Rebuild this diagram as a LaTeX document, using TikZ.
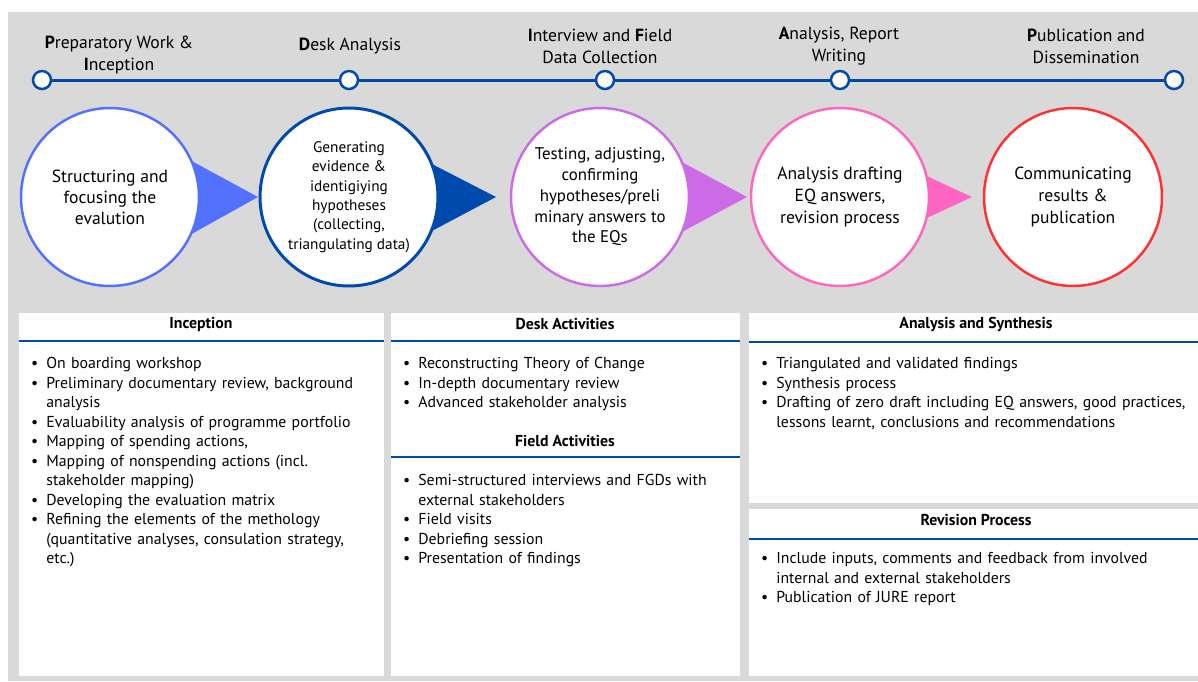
\documentclass[tikz,border=0pt]{standalone}
\usepackage{fontspec}
\setmainfont{PT Sans}
\usepackage{enumitem}

\definecolor{bggray}{HTML}{D9D9D9}
\definecolor{lineblue}{HTML}{004AAD}
\definecolor{phaseA}{HTML}{5271FF}
\definecolor{phaseB}{HTML}{004AAD}
\definecolor{phaseC}{HTML}{CB6CE6}
\definecolor{phaseD}{HTML}{FF66C4}
\definecolor{phaseE}{HTML}{FF3131}

\newcommand{\tasklist}[1]{%
  \begin{itemize}[label=\textbullet, leftmargin=0.32cm, labelsep=0.16cm,
    itemsep=0pt, parsep=0pt, topsep=0pt, partopsep=0pt]
  #1
  \end{itemize}}

\tikzset{
  tdot/.style={circle, draw=lineblue, fill=white, line width=1.4pt,
    minimum size=0.36cm, inner sep=0pt},
  tline/.style={lineblue, line width=1.7pt},
  phase/.style={align=center, font=\fontsize{10}{12.4}\selectfont},
  bigcircle/.style={circle, fill=white, line width=1.4pt, minimum size=3.56cm,
    inner sep=0pt, align=center, font=\fontsize{10}{12}\selectfont},
  panel/.style={fill=white},
  paneltitle/.style={font=\fontsize{9}{11}\selectfont\bfseries, inner sep=0pt},
  rule/.style={lineblue, line width=1.4pt},
  tasks/.style={anchor=north west, inner sep=0pt, text width=9cm, align=left,
    font=\fontsize{9}{11.1}\selectfont},
}

\begin{document}
\begin{tikzpicture}[x=0.02cm,y=-0.02cm]
  \useasboundingbox (0,0) rectangle (1198,681);
  \fill[bggray] (8,12) rectangle (1198,681);

  % 时间轴
  \node[tdot] (d1) at (42,80) {};
  \node[tdot] (d2) at (349,80) {};
  \node[tdot] (d3) at (605,80) {};
  \node[tdot] (d4) at (840,80) {};
  \node[tdot] (d5) at (1174,80) {};
  \draw[tline] (d1) -- (d2) -- (d3) -- (d4) -- (d5);

  \node[phase] (p1) at (119,55) {\textbf{P}reparatory Work \&\\\textbf{I}nception};
  \node[phase] (p2) at (350,46) {\textbf{D}esk Analysis};
  \node[phase] (p3) at (600,46) {\textbf{I}nterview and \textbf{F}ield\\Data Collection};
  \node[phase] (p4) at (839,46) {\textbf{A}nalysis, Report\\Writing};
  \node[phase] (p5) at (1086,46) {\textbf{P}ublication and\\Dissemination};

  % 箭头三角形
  \fill[phaseA] (188,159) -- (258,197) -- (188,236) -- cycle;
  \fill[phaseB] (428,162) -- (496,197) -- (428,233) -- cycle;
  \fill[phaseC] (678,160) -- (747,197) -- (678,234) -- cycle;
  \fill[phaseD] (918,172) -- (972,197) -- (918,222) -- cycle;

  % 阶段圆
  \node[bigcircle, draw=phaseA] (c1) at (110,197) {Structuring and\\focusing the\\evalution};
  \node[bigcircle, draw=phaseB, line width=1.7pt, font=\fontsize{8.7}{11}\selectfont] (c2) at (349,197)
    {Generating\\evidence \&\\identigiying\\hypotheses\\(collecting,\\triangulating data)};
  \node[bigcircle, draw=phaseC, font=\fontsize{9.6}{11.8}\selectfont] (c3) at (600,197)
    {Testing, adjusting,\\confirming\\hypotheses/preli\\minary answers to\\the EQs};
  \node[bigcircle, draw=phaseD, font=\fontsize{10}{12.5}\selectfont] (c4) at (840,197)
    {Analysis drafting\\EQ answers,\\revision process};
  \node[bigcircle, draw=phaseE, font=\fontsize{10}{12.5}\selectfont] (c5) at (1073,197)
    {Communicating\\results \&\\publication};

  % 下方的活动面板
  \fill[panel] (19,313) rectangle (384,676);
  \fill[panel] (391,313) rectangle (740,676);
  \fill[panel] (749,313) rectangle (1198,503);
  \fill[panel] (749,509) rectangle (1198,676);

  \node[paneltitle] (h1) at (201,324) {Inception};
  \draw[rule] (19,341) -- (384,341);
  \node[tasks] (l1) at (30,349) {\tasklist{
    \item On boarding workshop
    \item Preliminary documentary review, background\newline analysis
    \item Evaluability analysis of programme portfolio
    \item Mapping of spending actions,
    \item Mapping of nonspending actions (incl.\newline stakeholder mapping)
    \item Developing the evaluation matrix
    \item Refining the elements of the methology\newline (quantitative analyses, consulation strategy,\newline etc.)}};

  \node[paneltitle] (h2) at (565,324) {Desk Activities};
  \draw[rule] (391,341) -- (740,341);
  \node[tasks] (l2) at (402,349) {\tasklist{
    \item Reconstructing Theory of Change
    \item In-depth documentary review
    \item Advanced stakeholder analysis}};

  \node[paneltitle] (h3) at (565,441) {Field Activities};
  \draw[rule] (391,457) -- (740,457);
  \node[tasks] (l3) at (402,466) {\tasklist{
    \item Semi-structured interviews and FGDs with\newline external stakeholders
    \item Field visits
    \item Debriefing session
    \item Presentation of findings}};

  \node[paneltitle] (h4) at (976,324) {Analysis and Synthesis};
  \draw[rule] (749,342) -- (1198,342);
  \node[tasks] (l4) at (760,349) {\tasklist{
    \item Triangulated and validated findings
    \item Synthesis process
    \item Drafting of zero draft including EQ answers, good practices,\newline lessons learnt, conclusions and recommendations}};

  \node[paneltitle] (h5) at (976,520) {Revision Process};
  \draw[rule] (749,539) -- (1198,539);
  \node[tasks] (l5) at (760,544) {\tasklist{
    \item Include inputs, comments and feedback from involved\newline internal and external stakeholders
    \item Publication of JURE report}};
\end{tikzpicture}
\end{document}
